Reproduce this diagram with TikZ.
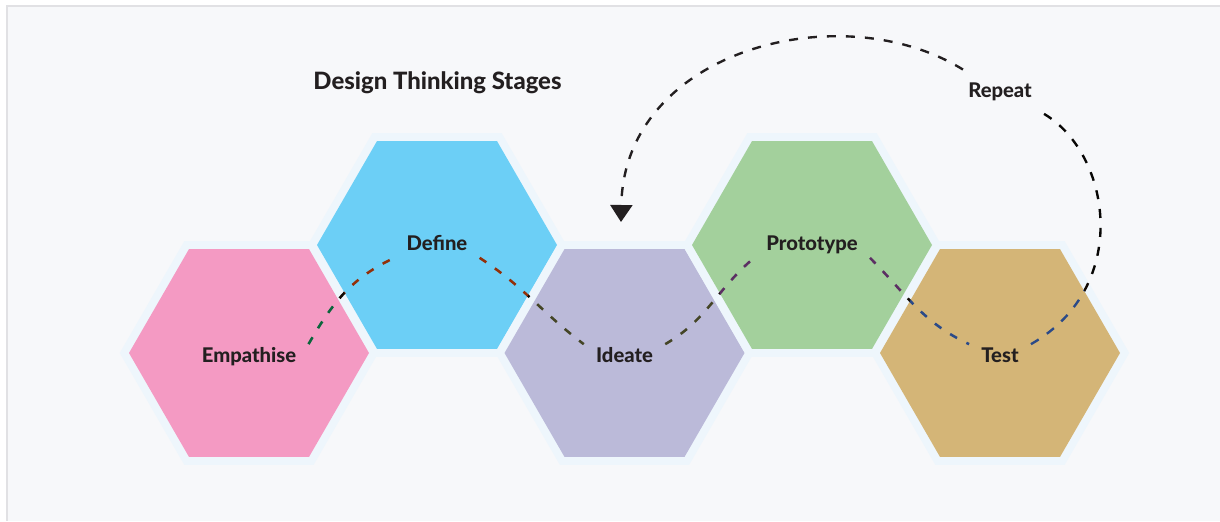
\documentclass[tikz,border=0pt]{standalone}
\usepackage{fontspec}
\setmainfont{Lato}
\IfFontExistsTF{Lato Heavy}{\newfontfamily\heavy{Lato Heavy}}{\newfontfamily\heavy{Lato}[UprightFont=*-Bold]}
\usepackage{tikz}
\usetikzlibrary{shapes.geometric,arrows.meta}
\definecolor{canvas}{HTML}{F7F8FA}
\definecolor{frame}{HTML}{E1E1E4}
\definecolor{halo}{HTML}{EEF6FC}
\definecolor{ink}{HTML}{231F20}
\definecolor{empathcol}{HTML}{F49AC3}
\definecolor{definecol}{HTML}{6CCFF6}
\definecolor{ideatecol}{HTML}{BBBAD9}
\definecolor{protocol}{HTML}{A3D09C}
\definecolor{testcol}{HTML}{D4B577}

\begin{document}
\begin{tikzpicture}[
	hex/.style={regular polygon, regular polygon sides=6, minimum size=4.8cm, inner sep=0pt, preaction={draw=halo, line width=0.32cm}},
	stage/.style={font=\heavy\fontsize{11.5}{14}\selectfont, text=ink, text height=0.3cm, text depth=0.08cm, inner xsep=0.24cm, inner ysep=0.06cm},
	wave/.style={draw=white, line width=1.45pt, dash pattern=on 0.16cm off 0.21cm},
	loopback/.style={line width=1.35pt, dash pattern=on 0.18cm off 0.2cm},
]
	\useasboundingbox (0,0) rectangle (24.4,10.42);
	\fill[canvas] (0.13,0) rectangle (24.4,10.29);
	\draw[frame, line width=0.04cm] (0.13,0) -- (0.13,10.29) -- (24.4,10.29);

	\node[hex, fill=empathcol] (h1) at (4.98,3.36) {};
	\node[hex, fill=definecol] (h2) at (8.74,5.52) {};
	\node[hex, fill=ideatecol] (h3) at (12.49,3.36) {};
	\node[hex, fill=protocol] (h4) at (16.24,5.52) {};
	\node[hex, fill=testcol] (h5) at (20,3.36) {};

	\node[stage, yshift=-0.08cm] (empathise) at (h1) {Empathise};
	\node[stage] (define) at (h2) {Define};
	\node[stage, yshift=-0.08cm] (ideate) at (h3) {Ideate};
	\node[stage] (prototype) at (h4) {Prototype};
	\node[stage, yshift=-0.08cm] (test) at (h5) {Test};

	\node[stage, font=\heavy\fontsize{13.6}{16}\selectfont] (title) at (8.75,8.73) {Design Thinking Stages};
	\node[stage, inner xsep=0.1cm, inner ysep=0.3cm] (repeat) at (20,8.57) {Repeat};
	\coordinate (back) at (12.42,5.98);

	\begin{scope}[blend mode=difference]
		\draw[wave] (empathise.north east) to[out=60,in=205] (define.south west);
		\draw[wave] (define.south east) to[out=-33,in=143] (ideate.north west);
		\draw[wave] (ideate.north east) to[out=30,in=220] (prototype.south west);
		\draw[wave] (prototype.south east) to[out=-45,in=155] (test.north west);
		\draw[loopback, white] (test.north east) .. controls (22.7,4.72) and (22.2,7.52) .. (repeat);
	\end{scope}
	\draw[loopback, ink, -{Triangle[width=0.44cm,length=0.34cm]}] (repeat) .. controls (16.82,10.54) and (12.48,9.42) .. (back);
\end{tikzpicture}
\end{document}
